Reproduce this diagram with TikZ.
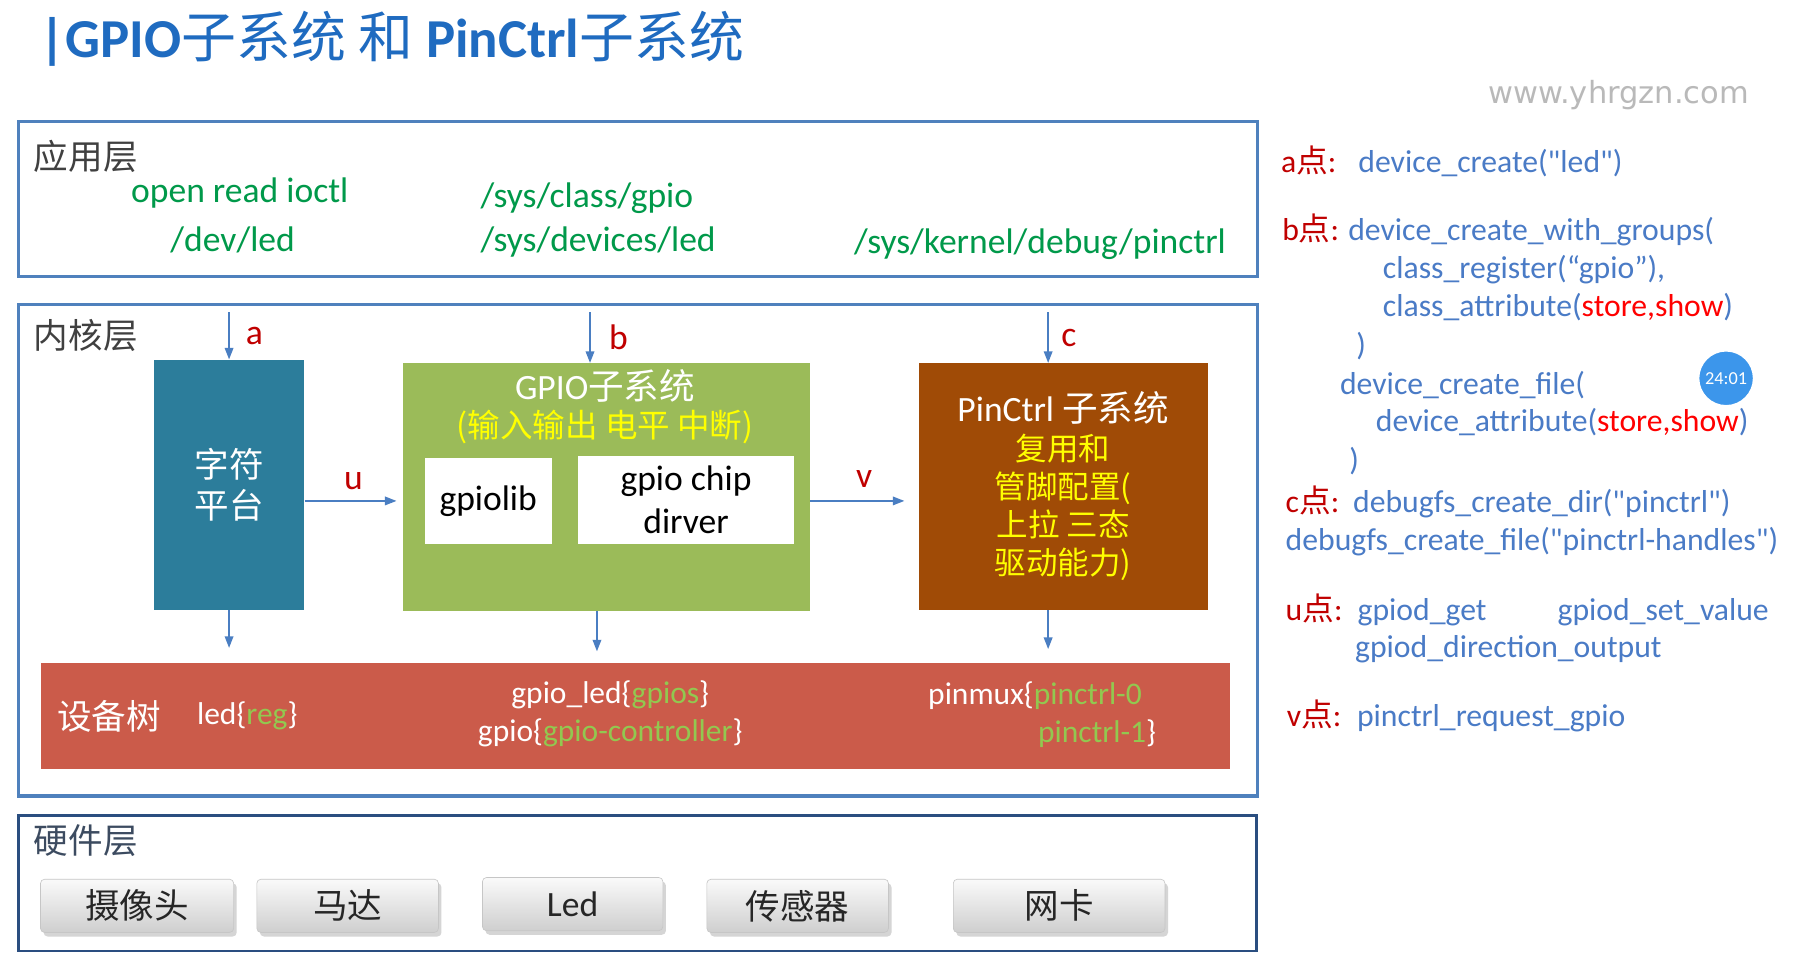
\documentclass[tikz,border=0pt]{standalone}
\usepackage{fontspec}
\setmainfont{Carlito}[Ligatures=TeXOff]
\newfontfamily\cjk{Noto Sans CJK SC}
\newfontfamily\wmfont{DejaVu Sans}
\newcommand\zh[1]{{\cjk #1}}
\newcommand\setfs[2]{\fontsize{#1pt}{#2pt}\selectfont}
\usepackage{tikz}
\usetikzlibrary{arrows.meta}
\usetikzlibrary{calc,shadows}
\definecolor{ttlblue}{HTML}{1F6BC0}
\definecolor{layerblue}{HTML}{4F81BD}
\definecolor{hwblue}{HTML}{2A4E80}
\definecolor{hwtext}{HTML}{3C4B60}
\definecolor{appgreen}{HTML}{00994A}
\definecolor{labred}{HTML}{C00000}
\definecolor{notered}{HTML}{FF0000}
\definecolor{noteblue}{HTML}{4A7BC6}
\definecolor{platteal}{HTML}{2C7D9B}
\definecolor{gpiogreen}{HTML}{9BBB59}
\definecolor{pinbrown}{HTML}{A04B06}
\definecolor{dtsred}{HTML}{CB5B4A}
\definecolor{dtsgreen}{HTML}{92C850}
\definecolor{arrowblue}{HTML}{4A7EC2}
\definecolor{txtyellow}{HTML}{FFFF00}
\definecolor{badgeblue}{HTML}{3C96EB}

\begin{document}
\begin{tikzpicture}[x=0.02cm, y=-0.02cm, >={Triangle[length=0.2cm,width=0.15cm]},
	txt/.style={inner sep=0pt},
	layerbox/.style={draw=layerblue, line width=1.6pt, minimum width=21.42cm},
	laylab/.style={txt, anchor=west, text=black!75, font=\setfs{17}{20}\cjk},
	apptxt/.style={txt, anchor=base west, text=appgreen, font=\setfs{17.5}{21}},
	blk/.style={inner sep=0pt, align=center, text=white},
	lab/.style={text=labred, font=\setfs{17.5}{21}},
	flow/.style={->, color=arrowblue, line width=0.7pt},
	dtstxt/.style={txt, text=white, font=\setfs{15.5}{18.8}},
	note/.style={txt, anchor=base west, text=noteblue, font=\setfs{15.6}{19}},
	hwbtn/.style={rounded corners=2pt, top color=gray!4, bottom color=gray!38, draw=gray!45, line width=0.3pt,
		drop shadow={shadow xshift=1.5pt, shadow yshift=-2pt, fill=gray!55, opacity=0.6},
		minimum height=0.92cm, font=\setfs{17}{20}\cjk, text=black!85}]
\fill[white] (0,0) rectangle (1568,830);
\useasboundingbox (0,0) rectangle (1568,830);

\node[txt, anchor=base west, text=ttlblue, font=\setfs{27}{32}\bfseries] (title) at (34,50)
	{|GPIO{\cjk\mdseries 子系统} {\cjk\mdseries 和} PinCtrl{\cjk\mdseries 子系统}};
\node[txt, text=gray!55, font=\setfs{15}{18}\wmfont] (wm) at (1399,82) {www.yhrgzn.com};

% application layer
\node[layerbox, minimum height=2.68cm] (app) at (551.5,172) {};
\node[laylab] (applab) at (29,135) {应用层};
\node[apptxt] (appcall) at (113,175) {open read ioctl};
\node[apptxt] (devled) at (147,217) {/dev/led};
\node[apptxt] (sysclass) at (415,179) {/sys/class/gpio};
\node[apptxt] (sysdev) at (415,217) {/sys/devices/led};
\node[apptxt] (dbgpin) at (738,219) {/sys/kernel/debug/pinctrl};

% kernel layer
\node[layerbox, minimum height=8.5cm] (kern) at (551.5,475.5) {};
\node[laylab] (kernlab) at (29,290) {内核层};
\node[blk, fill=platteal, minimum width=2.6cm, minimum height=4.32cm, font=\setfs{17}{20.5}\cjk] (plat) at (198,419) {字符\\平台};
\node[blk, fill=gpiogreen, minimum width=7.04cm, minimum height=4.28cm] (gpio) at (524,421) {};
\node[txt, text=white, font=\setfs{17.5}{21}] (gpiottl) at (523,334) {GPIO\zh{子系统}};
\node[txt, text=txtyellow, font=\setfs{16}{19}\cjk] (gpiosub) at (523,369) {(输入输出\ 电平\ 中断)};
\node[blk, fill=white, text=black, minimum width=2.2cm, minimum height=1.48cm, font=\setfs{17.5}{21}] (gpiolib) at (422,433) {gpiolib};
\node[blk, fill=white, text=black, minimum width=3.72cm, minimum height=1.52cm, font=\setfs{17.5}{21}] (chip) at (593,432) {gpio chip\\dirver};
\node[blk, fill=pinbrown, minimum width=5cm, minimum height=4.26cm, text=txtyellow, font=\setfs{15.5}{18.8}\cjk] (pin) at (919,420.5)
	{{\color{white}\setfs{17.5}{18.8}\rmfamily PinCtrl \zh{子系统}}\\复用和\\管脚配置(\\上拉 三态\\驱动能力)};
\node[blk, fill=dtsred, minimum width=20.56cm, minimum height=1.84cm] (dts) at (549,619) {};
\node[txt, anchor=west, text=white, font=\setfs{17}{20}\cjk] (dtslab) at (49,619) {设备树};
\node[dtstxt, anchor=base west] (dtsled) at (170,626) {led\{\textcolor{dtsgreen}{reg}\}};
\node[dtstxt, align=center] (dtsgpio) at (527.5,617) {gpio\_led\{\textcolor{dtsgreen}{gpios}\}\\gpio\{\textcolor{dtsgreen}{gpio-controller}\}};
\node[dtstxt, anchor=base west] (pinmux) at (802,609) {pinmux\{\textcolor{dtsgreen}{pinctrl-0}};
\node[dtstxt, anchor=base west] (pinsel) at (897,642) {\textcolor{dtsgreen}{pinctrl-1}\}};

\coordinate (ta) at (198,270);
\coordinate (tb) at (510,270);
\coordinate (tc) at (906,270);
\coordinate (da) at (198,560);
\coordinate (db) at (516,563);
\coordinate (dc) at (906,561);
%\path[->,font=\scriptsize]
\path[flow]
	(ta) edge node[lab, right, xshift=0.16cm]{a} (ta |- plat.north)
	(tb) edge node[lab, right, xshift=0.2cm]{b} (tb |- gpio.north)
	(tc) edge node[lab, right, xshift=0.1cm]{c} (tc |- pin.north)
	(plat.east |- gpiolib) edge[shorten >=0.1cm] node[lab, above, yshift=0.06cm]{u} (gpio.west |- gpiolib)
	(gpio.east |- gpiolib) edge[shorten >=0.24cm] node[lab, above, yshift=0.1cm]{v} (pin.west |- gpiolib)
	(plat.south -| da) edge (da)
	(gpio.south -| db) edge (db)
	(pin.south -| dc) edge (dc)
;

% hardware layer
\node[layerbox, draw=hwblue, line width=1.3pt, minimum width=21.4cm, minimum height=2.34cm] (hw) at (551,763.5) {};
\node[laylab, text=hwtext] (hwlab) at (29,727) {硬件层};
\node[hwbtn, minimum width=3.34cm] (cam) at (118.5,783) {摄像头};
\node[hwbtn, minimum width=3.14cm] (motor) at (300.5,783) {马达};
\node[hwbtn, minimum width=3.12cm, font=\setfs{17.5}{21}] (led) at (495,781.5) {Led};
\node[hwbtn, minimum width=3.14cm] (sensor) at (689.5,783) {传感器};
\node[hwbtn, minimum width=3.66cm] (nic) at (915.5,783) {网卡};

% call points
\node[note] (na) at (1107,149) {\textcolor{labred}{a\zh{点}:}\hspace{10.8pt}device\_create("led")};
\node[note] (nb1) at (1108,208) {\textcolor{labred}{b\zh{点}:}\hspace{4.5pt}device\_create\_with\_groups(};
\node[note] (nb2) at (1195,241) {class\_register(“gpio”),};
\node[note] (nb3) at (1195,274) {class\_attribute(\textcolor{notered}{store,show})};
\node[note] (nb4) at (1172,307) {)};
\node[note] (nb5) at (1158,341) {device\_create\_file(};
\node[note] (nb6) at (1189,373) {device\_attribute(\textcolor{notered}{store,show})};
\node[note] (nb7) at (1166,407) {)};
\node[note] (nc1) at (1111,443) {\textcolor{labred}{c\zh{点}:}\hspace{6.8pt}debugfs\_create\_dir("pinctrl")};
\node[note] (nc2) at (1111,476) {debugfs\_create\_file("pinctrl-handles")};
\node[note] (nu1) at (1111,536) {\textcolor{labred}{u\zh{点}:}\hspace{7.4pt}gpiod\_get};
\node[note] (nu2) at (1346,536) {gpiod\_set\_value};
\node[note] (nu3) at (1171,568) {gpiod\_direction\_output};
\node[note] (nv) at (1112,628) {\textcolor{labred}{v\zh{点}:}\hspace{7.7pt}pinctrl\_request\_gpio};
\node[circle, fill=badgeblue, draw=white, line width=1pt, minimum size=0.96cm, inner sep=0pt, text=white, font=\setfs{9}{10}] (badge) at (1492,327) {24:01};
\end{tikzpicture}
\end{document}
